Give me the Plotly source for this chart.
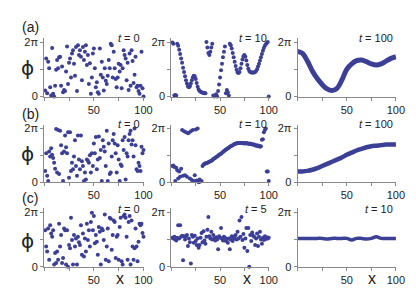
import plotly.graph_objects as go

# phase values in units of 2*pi (turns), one value per site x = 1..100
x_sites = list(range(1, 101))
x_smooth = list(range(0, 101, 5))

phi_a_t0 = [.11,.70,.06,.64,.52,.17,.02,.89,.05,.00,
            .20,.49,.67,.52,.72,.73,.20,.55,.08,.12,
            .10,.46,.92,.23,.62,.70,.35,.79,.85,.60,
            .38,.91,.10,.94,.76,.85,.73,.30,.91,.67,
            .82,.94,.58,.76,.23,.61,.05,.35,.79,.88,
            .52,.17,.26,.08,.05,.88,.40,.64,.35,.11,
            .52,.29,.23,.38,.67,.52,.97,.94,.35,.82,
            .52,.32,.17,.35,.60,.46,.58,.15,.52,.85,
            .76,.70,.30,.62,.12,.79,.20,.85,.65,.25,
            .40,.73,.17,.20,.10,.05,.20,.82,.15,.00]

phi_a_t10 = [.99,.97,.02,.03,.02,.97,.93,.86,.78,.70,
             .62,.53,.45,.37,.30,.24,.19,.17,.19,.24,
             .30,.35,.38,.37,.32,.25,.18,.13,.10,.09,
             .08,.07,.07,.06,.06,1.0,.90,.80,.76,.82,
             .90,.97,.02,.00,.02,.04,.00,.10,.22,.35,
             .48,.60,.72,.82,.92,.06,.12,.08,.02,.97,
             .94,.88,.80,.72,.64,.56,.49,.44,.43,.45,
             .52,.60,.68,.74,.76,.73,.66,.58,.51,.47,
             .45,.44,.44,.44,.44,.45,.47,.50,.55,.60,
             .66,.72,.78,.84,.89,.93,.96,.98,1.0,.00]

phi_a_t100 = [.83,.79,.65,.47,.33,.22,.14,.11,.15,.30,.50,
              .60,.66,.67,.64,.60,.58,.60,.65,.70,.73]

phi_b_t0 = [.21,.54,.12,.02,.57,.48,.63,.51,.45,.36,.25,
            .99,.18,.97,.15,.96,.69,.54,.02,.57,.87,.65,
            .54,.93,.08,.93,.21,.36,.24,.48,.78,.30,.12,
            .87,.42,.24,.87,.39,.30,.02,.18,.05,.42,.40,
            .36,.50,.18,.54,.30,.72,.54,.84,.24,.42,.85,
            .45,.60,.02,.78,.66,.57,.30,.96,.02,.72,.15,
            .18,.48,.78,.90,.72,.54,.18,.69,.42,.02,.33,
            .30,.78,.60,.84,.05,.54,.48,.78,.90,.96,.70,
            .78,.48,1.0,.69,.24,.21,.36,.30,.21,.66,.54,.60]

phi_b_t10 = [.30,.31,.28,.02,.27,.22,.07,.20,.10,.25,
             .97,.12,.95,.13,.93,.10,.91,.92,.07,.95,
             .04,.97,.02,.13,.98,.03,1.0,.00,.05,.01,
             .02,.30,.33,.34,.35,.35,.36,.37,.38,.39,
             .40,.41,.43,.44,.45,.47,.48,.49,.51,.52,
             .53,.55,.56,.58,.59,.61,.62,.63,.64,.66,
             .67,.68,.69,.70,.71,.72,.72,.73,.73,.73,
             .73,.73,.73,.72,.73,.72,.73,.72,.72,.71,
             .72,.71,.70,.70,.70,.69,.68,.69,.67,.68,
             .66,.67,.79,.80,.93,.97,1.0,.20,.20,.02]

phi_b_t100 = [.20,.20,.21,.23,.26,.30,.34,.38,.42,.46,.51,
              .55,.59,.62,.65,.67,.68,.69,.70,.70,.70]

phi_c_t0 = [.67,.37,.28,.70,.13,.76,.61,.55,.67,.04,
            .25,.07,.28,.13,.79,.37,.58,.07,.16,.70,
            .67,.04,.67,.00,.40,.34,.90,.49,.04,.58,
            .37,.52,.04,.55,.45,.40,.76,.22,.61,.19,
            .52,.28,.79,.49,.67,.37,.82,.99,.67,.93,
            .43,.58,.46,.22,.73,.64,.04,.70,.67,.49,
            .96,.13,.37,.70,.10,.90,.88,.31,.58,.85,
            .82,.16,.55,.58,.13,.73,.90,.10,.04,.93,
            .96,.90,.55,.13,.82,.93,.04,.85,.37,.13,
            .34,.70,.37,.10,.46,.79,.76,.79,.62,.55]

phi_c_t5 = [.53,.52,.55,.50,.48,.53,.76,.52,.76,.55,
            .57,.12,.56,.50,.56,.58,.38,.52,.45,.06,
            .58,.55,.44,.57,.47,.40,.52,.35,.40,.53,
            .62,.45,.65,.48,.42,.55,.68,.91,.56,.52,
            .64,.50,.58,.52,.48,.54,.50,.32,.56,.53,
            .71,.52,.48,.55,.53,.47,.51,.44,.52,.32,
            .50,.56,.47,.52,.56,.58,.50,.64,.52,.85,
            .55,.91,.49,.60,.35,.52,.71,.29,.71,.00,
            .58,.47,.63,.57,.55,.40,.52,.61,.38,.55,
            .64,.50,.42,.53,.49,.56,.51,.54,.52,.53]

phi_c_t10 = [.52,.52,.52,.52,.52,.52,.51,.52,.52,.52,.52,
             .49,.52,.52,.51,.52,.55,.52,.52,.52,.52]

row_labels = ["(a)", "(b)", "(c)"]
time_labels = [["0", "10", "100"], ["0", "10", "100"], ["0", "5", "10"]]

COLOR = "#3b3f96"
AXC = "#8a8a8a"

panels = [
    (x_sites, phi_a_t0, "dots"), (x_sites, phi_a_t10, "dots"), (x_smooth, phi_a_t100, "line"),
    (x_sites, phi_b_t0, "dots"), (x_sites, phi_b_t10, "dots"), (x_smooth, phi_b_t100, "line"),
    (x_sites, phi_c_t0, "dots"), (x_sites, phi_c_t5, "dots"), (x_smooth, phi_c_t10, "line"),
]

W, H = 416, 291
xdom = [[37 / W, 139 / W], [167 / W, 267 / W], [296 / W, 397 / W]]
ydom = [[1 - 89 / H, 1 - 29 / H], [1 - 177 / H, 1 - 118 / H], [1 - 264 / H, 1 - 204 / H]]

fig = go.Figure()
layout = {}
for k, (xs, ys, kind) in enumerate(panels):
    r, c = divmod(k, 3)
    n = k + 1
    xa = "x" if n == 1 else f"x{n}"
    ya = "y" if n == 1 else f"y{n}"
    if kind == "dots":
        fig.add_trace(go.Scatter(x=xs, y=ys, mode="markers", xaxis=xa, yaxis=ya,
                                 marker=dict(color=COLOR, size=4, line=dict(width=0)),
                                 cliponaxis=False, showlegend=False, hoverinfo="skip"))
    else:
        lw = 5 if r == 0 else (4.5 if r == 1 else 3.5)
        fig.add_trace(go.Scatter(x=xs, y=ys, mode="lines", xaxis=xa, yaxis=ya,
                                 line=dict(color=COLOR, width=lw, shape="spline"),
                                 cliponaxis=False, showlegend=False, hoverinfo="skip"))
    xkey = "xaxis" if n == 1 else f"xaxis{n}"
    ykey = "yaxis" if n == 1 else f"yaxis{n}"
    layout[xkey] = dict(domain=xdom[c], anchor=ya, range=[0, 100.5],
                        showline=True, linecolor=AXC, linewidth=1,
                        ticks="outside", ticklen=3, tickcolor=AXC,
                        tickvals=[0, 25, 50, 75, 100], ticktext=["", "", "50", "", "100"],
                        tickfont=dict(size=11, color="#222", family="Liberation Sans"),
                        showgrid=False, zeroline=False, fixedrange=True)
    layout[ykey] = dict(domain=ydom[r], anchor=xa, range=[0, 1.07],
                        showline=True, linecolor=AXC, linewidth=1,
                        ticks="outside", ticklen=3, tickcolor=AXC,
                        tickvals=[0, 0.5, 1], ticktext=["0", "", "2π"],
                        tickfont=dict(size=11, color="#222", family="Liberation Sans"),
                        showgrid=False, zeroline=False, fixedrange=True)

ann = []
row_y = [17, 107, 193]
phi_y = [60, 148, 238]
t_y = [29, 117, 205]
t_x = [137, 267, 396]
for r in range(3):
    ann.append(dict(x=12 / W, y=1 - row_y[r] / H, xref="paper", yref="paper",
                    text=row_labels[r], showarrow=False, xanchor="left", yanchor="middle",
                    font=dict(size=14, color="#222", family="Liberation Sans")))
    ann.append(dict(x=20 / W, y=1 - phi_y[r] / H, xref="paper", yref="paper",
                    text="ϕ", showarrow=False, xanchor="center", yanchor="middle",
                    font=dict(size=20, color="#222", family="DejaVu Sans")))
    for c in range(3):
        ann.append(dict(x=t_x[c] / W, y=1 - t_y[r] / H, xref="paper", yref="paper",
                        text="<i>t</i> = " + time_labels[r][c], showarrow=False,
                        xanchor="right", yanchor="middle",
                        font=dict(size=11, color="#222", family="Liberation Sans")))
for cx in [114, 244, 372]:
    ann.append(dict(x=cx / W, y=1 - 276 / H, xref="paper", yref="paper",
                    text="x", showarrow=False, xanchor="center", yanchor="middle",
                    font=dict(size=16, color="#222", family="Liberation Sans")))

fig.update_layout(width=W, height=H, margin=dict(l=0, r=0, t=0, b=0),
                  paper_bgcolor="white", plot_bgcolor="white",
                  annotations=ann, **layout)

fig.write_html("out.html")
